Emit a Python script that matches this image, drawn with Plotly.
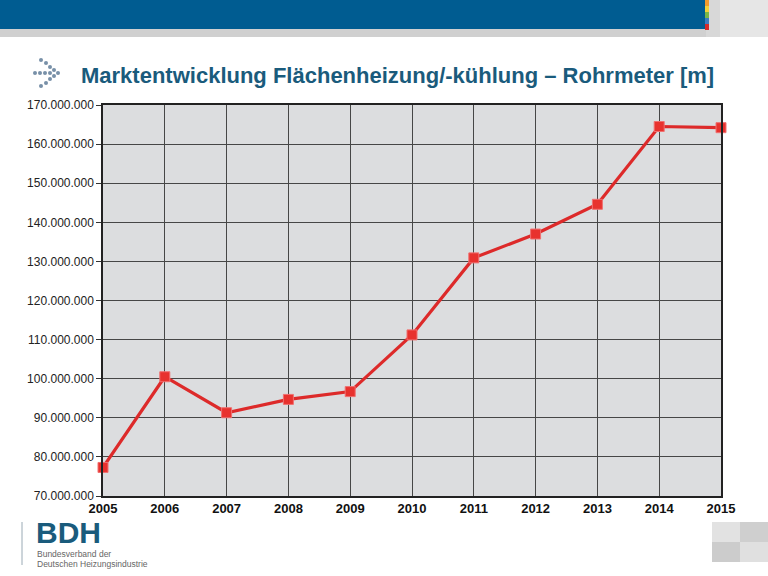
import plotly.graph_objects as go

years = [2005, 2006, 2007, 2008, 2009, 2010, 2011, 2012, 2013, 2014, 2015]
pipe_meters = [77300000, 100500000, 91300000, 94700000, 96700000, 111200000,
               130900000, 137000000, 144600000, 164500000, 164200000]
y_ticks = [70000000, 80000000, 90000000, 100000000, 110000000, 120000000,
           130000000, 140000000, 150000000, 160000000, 170000000]

TITLE = "Marktentwicklung Flächenheizung/-kühlung – Rohrmeter [m]"
LOGO = "BDH"
LOGO_SUB = ["Bundesverband der", "Deutschen Heizungsindustrie"]
BLUE = "#1a5b7c"

fig = go.Figure()
fig.add_trace(go.Scatter(
    x=years, y=pipe_meters, mode="lines+markers",
    line=dict(color="#dd2a2a", width=3.2),
    marker=dict(symbol="square", size=10, color="#e8322e",
                line=dict(color="#f07070", width=1)),
    hoverinfo="x+y", showlegend=False, cliponaxis=False,
))

W, H = 768, 576
L, R, T, B = 103, 47, 105, 80
pw, ph = W - L - R, H - T - B

def px(x):
    return (x - L) / pw

def py(y):
    return (H - B - y) / ph

shapes = []

def rect(x0, y0, x1, y1, color, layer="below"):
    shapes.append(dict(type="rect", xref="paper", yref="paper",
                       x0=px(x0), x1=px(x1), y0=py(y1), y1=py(y0),
                       fillcolor=color, line=dict(width=0), layer=layer))

rect(0, 0, 706, 29, "#005c91")
rect(0, 29, 706, 37, "#d0d0d0")
rect(706, 0, 768, 37, "#d8d8d8")
rect(720, 0, 768, 37, "#e6e6e6")
for i, c in enumerate(["#f39a2c", "#f2d13a", "#7ab648", "#3a7cc0", "#d42a2a"]):
    rect(705, i * 6, 709, i * 6 + 6, c)
rect(712, 522, 740, 542, "#e2e2e2")
rect(740, 522, 768, 542, "#cfcfcf")
rect(712, 542, 740, 562, "#cccccc")
rect(740, 542, 768, 562, "#e0e0e0")
shapes.append(dict(type="line", xref="paper", yref="paper",
                   x0=px(22), x1=px(22), y0=py(522), y1=py(565),
                   line=dict(color="#9aaab5", width=1)))
dots = [(35, 73), (40, 73), (45, 73), (50, 73), (46, 63), (50, 67), (54, 70),
        (58, 73), (54, 76), (50, 79), (46, 83), (41, 60), (41, 86)]
for (cx, cy) in dots:
    r = 2.0
    shapes.append(dict(type="circle", xref="paper", yref="paper",
                       x0=px(cx - r), x1=px(cx + r), y0=py(cy + r), y1=py(cy - r),
                       fillcolor="#7890a8", line=dict(width=0)))

annotations = [
    dict(text="<b>" + TITLE + "</b>", xref="paper", yref="paper",
         x=px(79), y=py(75), xanchor="left", yanchor="middle", showarrow=False,
         font=dict(family="Liberation Sans Narrow, Arial Narrow, Liberation Sans, Arial",
                   size=22, color=BLUE)),
    dict(text="<b>" + LOGO + "</b>", xref="paper", yref="paper",
         x=px(35), y=py(532), xanchor="left", yanchor="middle", showarrow=False,
         borderpad=0,
         font=dict(family="Liberation Sans, Arial", size=30, color=BLUE)),
]
for i, s in enumerate(LOGO_SUB):
    annotations.append(dict(text=s, xref="paper", yref="paper",
                            x=px(36), y=py(554 + i * 10), xanchor="left", yanchor="middle",
                            showarrow=False, borderpad=0,
                            font=dict(family="Liberation Sans Narrow, Liberation Sans, Arial",
                                      size=8.5, color="#666666")))

fig.update_layout(
    width=W, height=H,
    margin=dict(l=L, r=R, t=T, b=B, pad=0),
    paper_bgcolor="white",
    plot_bgcolor="#dcdddf",
    separators=",.",
    shapes=shapes,
    annotations=annotations,
    xaxis=dict(range=[2005, 2015], tickvals=years, ticktext=["<b>%d</b>" % y for y in years],
               showgrid=True, gridcolor="#464646", gridwidth=1, zeroline=False,
               showline=True, linecolor="#222222", linewidth=1.5, mirror=True,
               ticks="", ticklen=0,
               tickfont=dict(family="Liberation Sans Narrow, Liberation Sans, Arial", size=13, color="#111111")),
    yaxis=dict(range=[70000000, 170000000], tickvals=y_ticks, tickformat=",d",
               showgrid=True, gridcolor="#464646", gridwidth=1, zeroline=False,
               showline=True, linecolor="#222222", linewidth=1.5, mirror=True,
               ticks="outside", ticklen=5, tickcolor="#333333",
               tickfont=dict(family="Liberation Sans, Arial", size=12, color="#222222")),
)

fig.write_html("out.html", config={"displayModeBar": False},
               post_script="document.body.style.margin='0';")
